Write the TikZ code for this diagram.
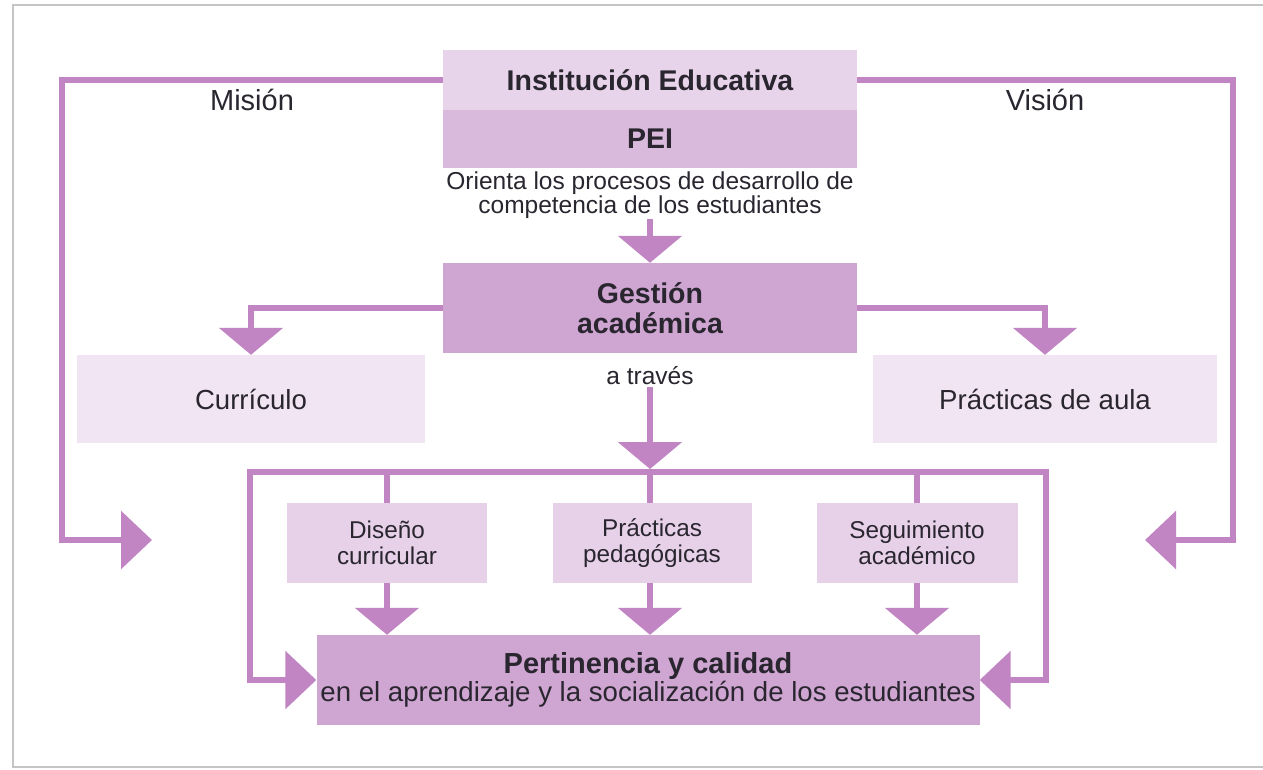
\documentclass[tikz,border=0pt]{standalone}
\usepackage{fontspec}
\setmainfont{Liberation Sans}
\usetikzlibrary{arrows.meta}
\definecolor{lineC}{HTML}{C285C3}
\definecolor{instC}{HTML}{E8D4EA}
\definecolor{peiC}{HTML}{D9B9DC}
\definecolor{gestC}{HTML}{CFA5D2}
\definecolor{lightC}{HTML}{F1E5F3}
\definecolor{midC}{HTML}{E7D1E9}
\definecolor{txtC}{HTML}{2A2630}
\definecolor{frameC}{HTML}{C4C4C4}
\tikzset{
  box/.style={draw=none, inner sep=0pt, align=center, text=txtC},
  bigB/.style={font=\fontsize{28.5}{30}\selectfont\bfseries},
  regL/.style={font=\fontsize{27.6}{30}\selectfont},
  regS/.style={font=\fontsize{24.5}{23.5}\selectfont},
  conn/.style={draw=lineC, line width=6.5pt},
  downarr/.style={conn, -{Triangle[length=27pt,width=63pt]}},
  sidearr/.style={conn, -{Triangle[length=31pt,width=57pt]}},
}
\begin{document}
\begin{tikzpicture}[x=1pt,y=-1pt]
\useasboundingbox (0,0) rectangle (1263,769);
\fill[white] (0,0) rectangle (1263,769);
% frame
\draw[frameC, line width=2pt] (1263,5) -- (13,5) -- (13,767) -- (1263,767);

% nodes
\node[box, bigB, fill=instC, minimum width=414pt, minimum height=60pt] (inst) at (650,80) {Institución Educativa};
\node[box, bigB, fill=peiC, minimum width=414pt, minimum height=58pt] (pei) at (650,139) {PEI};
\node[box, regS] (orient) at (650,195) {Orienta los procesos de desarrollo de\\competencia de los estudiantes};
\node[box, bigB, fill=gestC, minimum width=414pt, minimum height=90pt] (gest) at (650,308) {Gestión\\académica};
\node[box, regL, fill=lightC, minimum width=348pt, minimum height=88pt] (curr) at (251,399) {Currículo};
\node[box, regL, fill=lightC, minimum width=344pt, minimum height=88pt] (prac) at (1045,399) {Prácticas de aula};
\node[box, regS] (atraves) at (650,376) {a través};
\node[box, fill=midC, minimum width=200pt, minimum height=80pt, font=\fontsize{24.3}{26}\selectfont] (dis) at (387,543) {Diseño\\curricular};
\node[box, fill=midC, minimum width=199pt, minimum height=80pt, font=\fontsize{24.3}{26}\selectfont] (ped) at (652,543) {Prácticas\\pedagógicas};
\node[box, fill=midC, minimum width=201pt, minimum height=80pt, font=\fontsize{24.3}{26}\selectfont] (seg) at (917,543) {Seguimiento\\académico};
\node[box, fill=gestC, minimum width=663pt, minimum height=90pt] (pert) at (648,680)
  {\fontsize{29}{29}\selectfont\bfseries Pertinencia y calidad\\[1pt]\fontsize{27.6}{29}\selectfont en el aprendizaje y la socialización de los estudiantes};
\node[box, font=\fontsize{29}{30}\selectfont] (mision) at (252,100) {Misión};
\node[box, font=\fontsize{29}{30}\selectfont] (vision) at (1045,100) {Visión};

% coordinates
\coordinate (misT) at (152,540);
\coordinate (visT) at (1145,540);
\coordinate (barT) at (650,469);
\coordinate (barL) at (250,472);
\coordinate (barR) at (1046,472);

% Mision / Vision loops
\draw[sidearr] (inst.west) -- (62,80) -- (62,540) -- (misT);
\draw[sidearr] (inst.east) -- (1233,80) -- (1233,540) -- (visT);

% PEI -> Gestion
\draw[downarr] (650,219) -- (gest.north);
% Gestion -> Curriculo / Practicas de aula
\draw[downarr] (gest.west) -| (curr.north);
\draw[downarr] (gest.east) -| (prac.north);
% a traves -> bar
\draw[downarr] (atraves.south) ++(0,2) -- (barT);
% bar with side returns
\draw[sidearr] (barR) -- (barL) |- (pert.west);
\draw[sidearr] (barL) -- (barR) |- (pert.east);
\draw[conn] (dis.north) -- (dis.north |- barL);
\draw[conn] (ped.north -| barT) -- (barT);
\draw[conn] (seg.north) -- (seg.north |- barL);
% boxes -> Pertinencia
\draw[downarr] (dis.south) -- (dis.south |- pert.north);
\draw[downarr] (ped.south -| barT) -- (barT |- pert.north);
\draw[downarr] (seg.south) -- (seg.south |- pert.north);
\end{tikzpicture}
\end{document}
